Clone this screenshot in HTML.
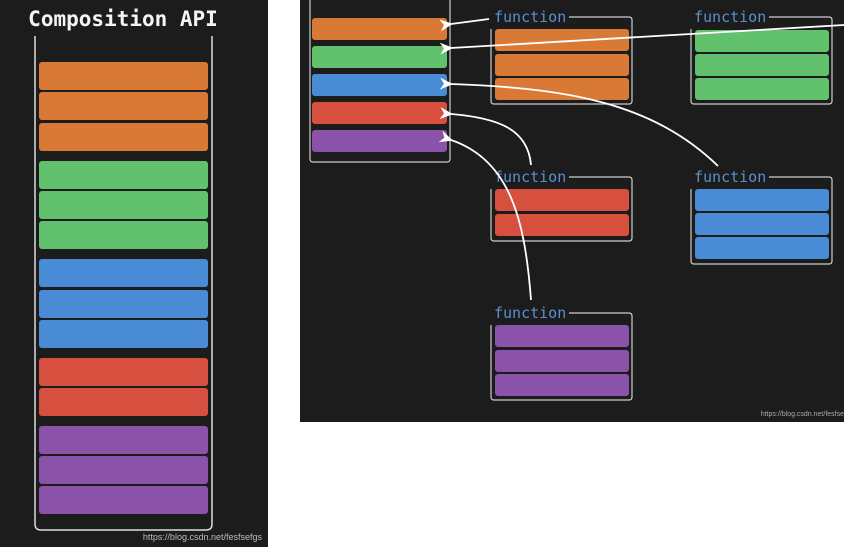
<!DOCTYPE html>
<html><head><style>
html,body{margin:0;padding:0;background:#fff;width:844px;height:550px;overflow:hidden}
svg{display:block}
</style></head><body>
<svg width="844" height="550" xmlns="http://www.w3.org/2000/svg">
<defs>
<marker id="ah" markerWidth="14" markerHeight="14" refX="2" refY="6" orient="auto" markerUnits="userSpaceOnUse">
<path d="M13,0 L0,6 L13,12 L9,6 Z" fill="#fff"/>
</marker>
</defs>
<rect x="0" y="0" width="268" height="547" fill="#1c1c1c"/>
<text x="123" y="26" text-anchor="middle" font-family="'DejaVu Sans Mono','Liberation Mono',monospace" font-weight="bold" font-size="21" fill="#f4f4f4">Composition API</text>
<path d="M35,36 V524 Q35,530 41,530 H206 Q212,530 212,524 V36" fill="none" stroke="#ddd" stroke-width="1.5"/>
<g>
<rect x="39" y="62" width="169" height="28" rx="3" fill="#d87a36"/>
<rect x="39" y="92" width="169" height="28" rx="3" fill="#d87a36"/>
<rect x="39" y="123" width="169" height="28" rx="3" fill="#d87a36"/>
<rect x="39" y="161" width="169" height="28" rx="3" fill="#62c16c"/>
<rect x="39" y="191" width="169" height="28" rx="3" fill="#62c16c"/>
<rect x="39" y="221" width="169" height="28" rx="3" fill="#62c16c"/>
<rect x="39" y="259" width="169" height="28" rx="3" fill="#4a8bd6"/>
<rect x="39" y="290" width="169" height="28" rx="3" fill="#4a8bd6"/>
<rect x="39" y="320" width="169" height="28" rx="3" fill="#4a8bd6"/>
<rect x="39" y="358" width="169" height="28" rx="3" fill="#d74f3f"/>
<rect x="39" y="388" width="169" height="28" rx="3" fill="#d74f3f"/>
<rect x="39" y="426" width="169" height="28" rx="3" fill="#8a52a8"/>
<rect x="39" y="456" width="169" height="28" rx="3" fill="#8a52a8"/>
<rect x="39" y="486" width="169" height="28" rx="3" fill="#8a52a8"/>
</g>
<text x="262" y="540" text-anchor="end" font-family="'Liberation Sans',sans-serif" font-size="9" fill="#bbb">https://blog.csdn.net/fesfsefgs</text>

<rect x="300" y="0" width="544" height="422" fill="#1c1c1c"/>
<path d="M310,0 V159 Q310,162 313,162 H447 Q450,162 450,159 V0" fill="none" stroke="#ccc" stroke-width="1.2"/>
<rect x="312" y="18" width="135" height="22" rx="3" fill="#d87a36"/>
<rect x="312" y="46" width="135" height="22" rx="3" fill="#62c16c"/>
<rect x="312" y="74" width="135" height="22" rx="3" fill="#4a8bd6"/>
<rect x="312" y="102" width="135" height="22" rx="3" fill="#d74f3f"/>
<rect x="312" y="130" width="135" height="22" rx="3" fill="#8a52a8"/>

<g font-family="'DejaVu Sans Mono','Liberation Mono',monospace" font-size="15" fill="#5b8fcf">
<text x="494" y="22">function</text>
<text x="694" y="22">function</text>
<text x="494" y="182">function</text>
<text x="694" y="182">function</text>
<text x="494" y="318">function</text>
</g>
<g fill="none" stroke="#ccc" stroke-width="1.2">
<path d="M569,17 H629 Q632,17 632,20 V101 Q632,104 629,104 H494 Q491,104 491,101 V29"/>
<path d="M769,17 H829 Q832,17 832,20 V101 Q832,104 829,104 H694 Q691,104 691,101 V29"/>
<path d="M569,177 H629 Q632,177 632,180 V238 Q632,241 629,241 H494 Q491,241 491,238 V189"/>
<path d="M769,177 H829 Q832,177 832,180 V261 Q832,264 829,264 H694 Q691,264 691,261 V189"/>
<path d="M569,313 H629 Q632,313 632,316 V397 Q632,400 629,400 H494 Q491,400 491,397 V325"/>
</g>
<g>
<rect x="495" y="29" width="134" height="22" rx="3" fill="#d87a36"/>
<rect x="495" y="54" width="134" height="22" rx="3" fill="#d87a36"/>
<rect x="495" y="78" width="134" height="22" rx="3" fill="#d87a36"/>
<rect x="695" y="30" width="134" height="22" rx="3" fill="#62c16c"/>
<rect x="695" y="54" width="134" height="22" rx="3" fill="#62c16c"/>
<rect x="695" y="78" width="134" height="22" rx="3" fill="#62c16c"/>
<rect x="495" y="189" width="134" height="22" rx="3" fill="#d74f3f"/>
<rect x="495" y="214" width="134" height="22" rx="3" fill="#d74f3f"/>
<rect x="695" y="189" width="134" height="22" rx="3" fill="#4a8bd6"/>
<rect x="695" y="213" width="134" height="22" rx="3" fill="#4a8bd6"/>
<rect x="695" y="237" width="134" height="22" rx="3" fill="#4a8bd6"/>
<rect x="495" y="325" width="134" height="22" rx="3" fill="#8a52a8"/>
<rect x="495" y="350" width="134" height="22" rx="3" fill="#8a52a8"/>
<rect x="495" y="374" width="134" height="22" rx="3" fill="#8a52a8"/>
</g>
<g fill="none" stroke="#fff" stroke-width="1.8" marker-end="url(#ah)">
<path d="M489,19 L451,24"/>
<path d="M844,25 L451,48"/>
<path d="M718,166 C650,100 560,88 451,84"/>
<path d="M531,165 C528,130 500,118 451,114"/>
<path d="M531,300 C525,220 510,160 451,140"/>
</g>
<text x="844" y="416" text-anchor="end" font-family="'Liberation Sans',sans-serif" font-size="7" fill="#aaa">https://blog.csdn.net/fesfse</text>
</svg>
</body></html>
